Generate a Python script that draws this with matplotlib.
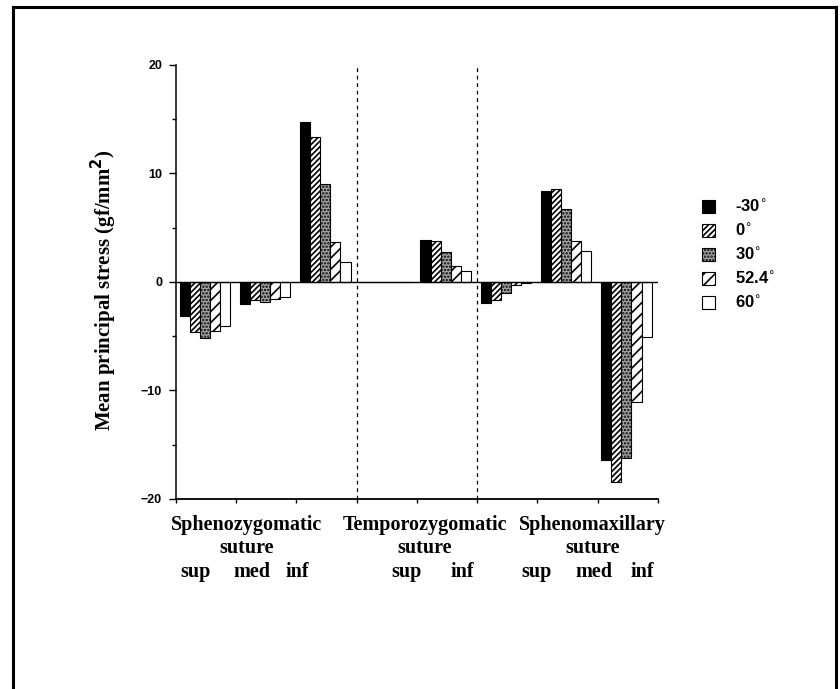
import matplotlib
matplotlib.use("Agg")
import matplotlib.pyplot as plt
import numpy as np
from matplotlib.patches import Patch
from matplotlib.lines import Line2D

# slots along the x axis: SZ sup/med/inf, TZ sup/inf, SM sup/med/inf
SLOTS = ["SZ sup", "SZ med", "SZ inf", "TZ sup", "TZ inf", "SM sup", "SM med", "SM inf"]
ANGLES = ["-30", "0", "30", "52.4", "60"]
S_M30 = [-3.1, -2.0, 14.7, 0.0, 3.9, -1.9, 8.4, -16.4]
S_0 = [-4.6, -1.7, 13.4, 0.0, 3.8, -1.7, 8.6, -18.4]
S_30 = [-5.2, -1.8, 9.0, 0.0, 2.8, -1.0, 6.7, -16.2]
S_524 = [-4.5, -1.6, 3.7, 0.0, 1.5, -0.3, 3.8, -11.1]
S_60 = [-4.1, -1.4, 1.8, 0.0, 1.0, -0.1, 2.9, -5.1]
SERIES = [S_M30, S_0, S_30, S_524, S_60]

GROUPS = ["Sphenozygomatic", "Temporozygomatic", "Sphenomaxillary"]
GROUP_X = [1.18, 4.13, 6.92]
SUB_LABELS = ["sup", "med", "inf", "sup", "inf", "sup", "med", "inf"]
SUB_X = [0.32, 1.26, 2.02, 3.83, 4.75, 5.99, 6.94, 7.75]
DIVIDERS = [3, 5]

STYLES = [
    dict(facecolor="black", hatch=None),
    dict(facecolor="white", hatch="//////"),
    dict(facecolor="#a8a8a8", hatch="....."),
    dict(facecolor="white", hatch="///"),
    dict(facecolor="white", hatch=None),
]

plt.rcParams["hatch.linewidth"] = 1.2
SERIF = ["Liberation Serif", "DejaVu Serif"]
SANS = ["Liberation Sans", "DejaVu Sans"]

fig = plt.figure(figsize=(8.4, 6.89), dpi=100)
ax = fig.add_axes([0.2095, 0.2758, 0.5735, 0.6299])

x = np.arange(len(SLOTS)) + 0.48
width = 0.168
for i, (vals, st) in enumerate(zip(SERIES, STYLES)):
    ax.bar(x + (i - 2) * width, vals, width=width, color=st["facecolor"],
           hatch=st["hatch"], edgecolor="black", linewidth=0.8, zorder=3)

ax.axhline(0, color="black", lw=1.0, zorder=4)
for d in DIVIDERS:
    ax.axvline(d, color="black", lw=0.9, ls=(0, (3, 3)), zorder=2)

ax.set_xlim(0, len(SLOTS))
ax.set_ylim(-20, 20)
ax.set_yticks([-20, -10, 0, 10, 20])
ax.set_yticks([-15, -5, 5, 15], minor=True)
ax.set_xticks(np.arange(len(SLOTS) + 1))
ax.set_xticklabels([])
ax.tick_params(axis="y", which="major", length=5, width=1, labelsize=9, pad=5)
ax.tick_params(axis="y", which="minor", length=3, width=1)
ax.tick_params(axis="x", length=3, width=1)
for lab in ax.get_yticklabels():
    lab.set_fontweight("bold")
    lab.set_family(SANS)
ax.spines["top"].set_visible(False)
ax.spines["right"].set_visible(False)
ax.spines["left"].set_linewidth(1.1)
ax.spines["bottom"].set_linewidth(1.3)

ax.set_ylabel("Mean principal stress (gf/mm$^\\mathbf{2}$)", family=SERIF,
              fontweight="bold", fontsize=15)
ax.yaxis.set_label_coords(-0.118, 0.48)

trans = ax.get_xaxis_transform()
for gx, g in zip(GROUP_X, GROUPS):
    ax.text(gx, -0.060, g, transform=trans, ha="center", va="center",
            family=SERIF, fontweight="bold", fontsize=14.5)
    ax.text(gx, -0.113, "suture", transform=trans, ha="center", va="center",
            family=SERIF, fontweight="bold", fontsize=14.5)
for sx, s in zip(SUB_X, SUB_LABELS):
    ax.text(sx, -0.168, s, transform=trans, ha="center", va="center",
            family=SERIF, fontweight="bold", fontsize=14.5)

handles = [Patch(facecolor=st["facecolor"], hatch=st["hatch"], edgecolor="black",
                 linewidth=0.8) for st in STYLES]
labels = [f"{a}$^{{\\circ}}$" for a in ANGLES]
leg = fig.legend(handles, labels, loc="upper left", bbox_to_anchor=(0.818, 0.734),
                 frameon=False, handlelength=0.75, handleheight=0.75, handletextpad=1.2,
                 labelspacing=0.42, prop={"family": SANS, "weight": "bold", "size": 12})

# page frame (open at the bottom)
fig.add_artist(Line2D([12.5 / 840, 12.5 / 840], [0, 1 - 6.5 / 689],
                      transform=fig.transFigure, color="black", lw=2.2))
fig.add_artist(Line2D([12.5 / 840, 836 / 840], [1 - 6.5 / 689, 1 - 6.5 / 689],
                      transform=fig.transFigure, color="black", lw=2.2))
fig.add_artist(Line2D([836 / 840, 836 / 840], [0, 1 - 6.5 / 689],
                      transform=fig.transFigure, color="black", lw=2.2))

fig.savefig("out.png", dpi=100)
